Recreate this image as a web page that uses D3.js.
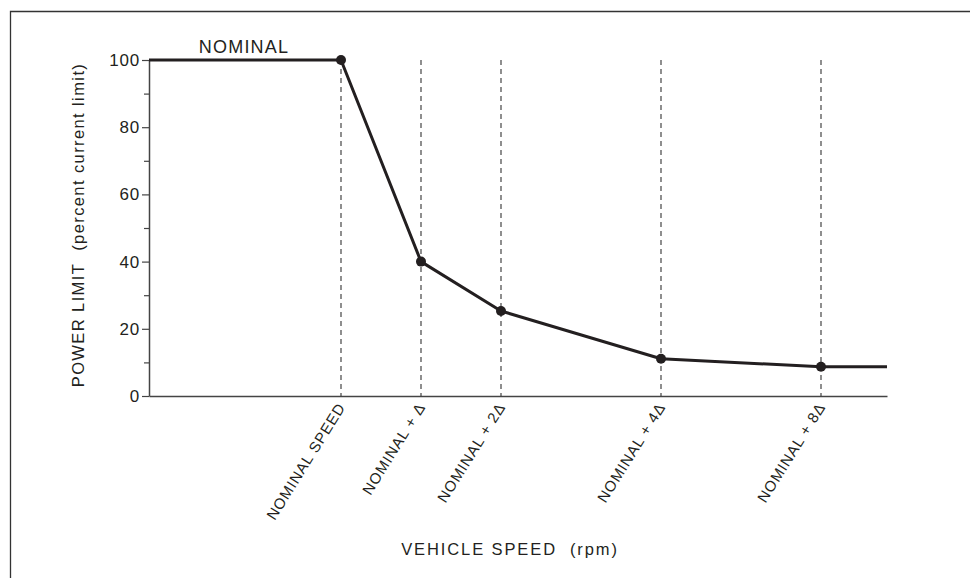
<!DOCTYPE html>
<html>
<head>
<meta charset="utf-8">
<script src="https://cdn.jsdelivr.net/npm/d3@7"></script>
<style>
  body { margin: 0; background: #fff; }
  svg { display: block; font-family: "Liberation Sans", Arial, Helvetica, sans-serif; }
</style>
</head>
<body>
<svg></svg>
<script>
// speed steps shown on the x axis (position in delta units after nominal)
const speedLabels = ['NOMINAL SPEED', 'NOMINAL + \u0394', 'NOMINAL + 2\u0394', 'NOMINAL + 4\u0394', 'NOMINAL + 8\u0394'];
const speedSteps = [0, 1, 2, 4, 6];
const powerLimit = [100, 40, 25.3, 11.1, 8.7];
const yTicks = [0, 10, 20, 30, 40, 50, 60, 70, 80, 90, 100];

const width = 970, height = 578;
const ink = '#231f20';

const xScale = d3.scaleLinear()
    .domain([-2.4, 6.825])
    .range([149, 887]);

const yScale = d3.scaleLinear()
    .domain([0, 100])
    .range([396, 60]);

const container = d3.select('svg')
    .attr('width', width)
    .attr('height', height);

// frame (top and left edges only)
container.append('path')
    .attr('d', 'M10.5,' + height + 'V11.5H' + width)
    .attr('fill', 'none')
    .attr('stroke', '#333')
    .attr('stroke-width', 1.3);

// dashed verticals at each speed step
container.selectAll('.guide')
    .data(speedSteps)
    .enter()
    .append('line')
    .classed('guide', true)
    .attr('x1', d => xScale(d))
    .attr('x2', d => xScale(d))
    .attr('y1', yScale(100))
    .attr('y2', yScale(0))
    .attr('stroke', '#333')
    .attr('stroke-width', 1.1)
    .attr('stroke-dasharray', '5,4');

// y axis
const yAxis = container.append('g')
    .attr('transform', 'translate(' + xScale(-2.4) + ',0)')
    .call(d3.axisLeft(yScale)
        .tickValues(yTicks)
        .tickSizeOuter(0)
        .tickFormat(d => d % 20 === 0 ? d : ''));
yAxis.select('.domain').attr('stroke', '#444').attr('stroke-width', 1.5);
yAxis.selectAll('.tick line')
    .attr('stroke', '#444')
    .attr('stroke-width', 1.2)
    .attr('x2', d => d % 20 === 0 ? -7 : -5);
yAxis.selectAll('.tick text')
    .attr('fill', ink)
    .attr('font-size', 17)
    .attr('letter-spacing', 0.8)
    .attr('font-family', '"Liberation Sans", Arial, sans-serif')
    .attr('x', -9);

// x axis line (no ticks)
container.append('g')
    .attr('transform', 'translate(0,' + yScale(0) + ')')
    .call(d3.axisBottom(xScale).tickValues([]).tickSizeOuter(0))
    .select('.domain')
    .attr('stroke', '#444')
    .attr('stroke-width', 1.5);

// rotated speed labels
container.selectAll('.speed-label')
    .data(speedSteps)
    .enter()
    .append('text')
    .classed('speed-label', true)
    .attr('text-anchor', 'end')
    .attr('font-size', 15)
    .attr('letter-spacing', 0.9)
    .attr('fill', ink)
    .attr('transform', d => 'translate(' + (xScale(d) + 5) + ',' + (yScale(0) + 11) + ') rotate(-58)')
    .text((d, i) => speedLabels[i]);

// power limit curve
const lineData = [{x: xScale.domain()[0], y: powerLimit[0]}]
    .concat(speedSteps.map((s, i) => ({x: s, y: powerLimit[i]})))
    .concat([{x: xScale.domain()[1], y: powerLimit[powerLimit.length - 1]}]);

container.append('path')
    .datum(lineData)
    .attr('fill', 'none')
    .attr('stroke', ink)
    .attr('stroke-width', 3)
    .attr('stroke-linejoin', 'round')
    .attr('d', d3.line().x(d => xScale(d.x)).y(d => yScale(d.y)));

// points
container.selectAll('.point')
    .data(speedSteps)
    .enter()
    .append('circle')
    .classed('point', true)
    .attr('r', 5)
    .attr('cx', d => xScale(d))
    .attr('cy', (d, i) => yScale(powerLimit[i]))
    .attr('fill', ink);

// NOMINAL label over the flat part
container.append('text')
    .attr('x', 244)
    .attr('y', 53)
    .attr('text-anchor', 'middle')
    .attr('font-size', 18)
    .attr('letter-spacing', 1.2)
    .attr('fill', ink)
    .text('NOMINAL');

// y axis title
container.append('text')
    .attr('text-anchor', 'middle')
    .attr('transform', 'translate(84,' + 225 + ') rotate(-90)')
    .attr('font-size', 16.5)
    .attr('letter-spacing', 1.4)
    .attr('fill', ink)
    .text('POWER LIMIT\u00a0 (percent current limit)');

// x axis title
container.append('text')
    .attr('x', 510)
    .attr('y', 555)
    .attr('text-anchor', 'middle')
    .attr('font-size', 16.5)
    .attr('letter-spacing', 1.9)
    .attr('fill', ink)
    .text('VEHICLE SPEED\u00a0 (rpm)');
</script>
</body>
</html>
